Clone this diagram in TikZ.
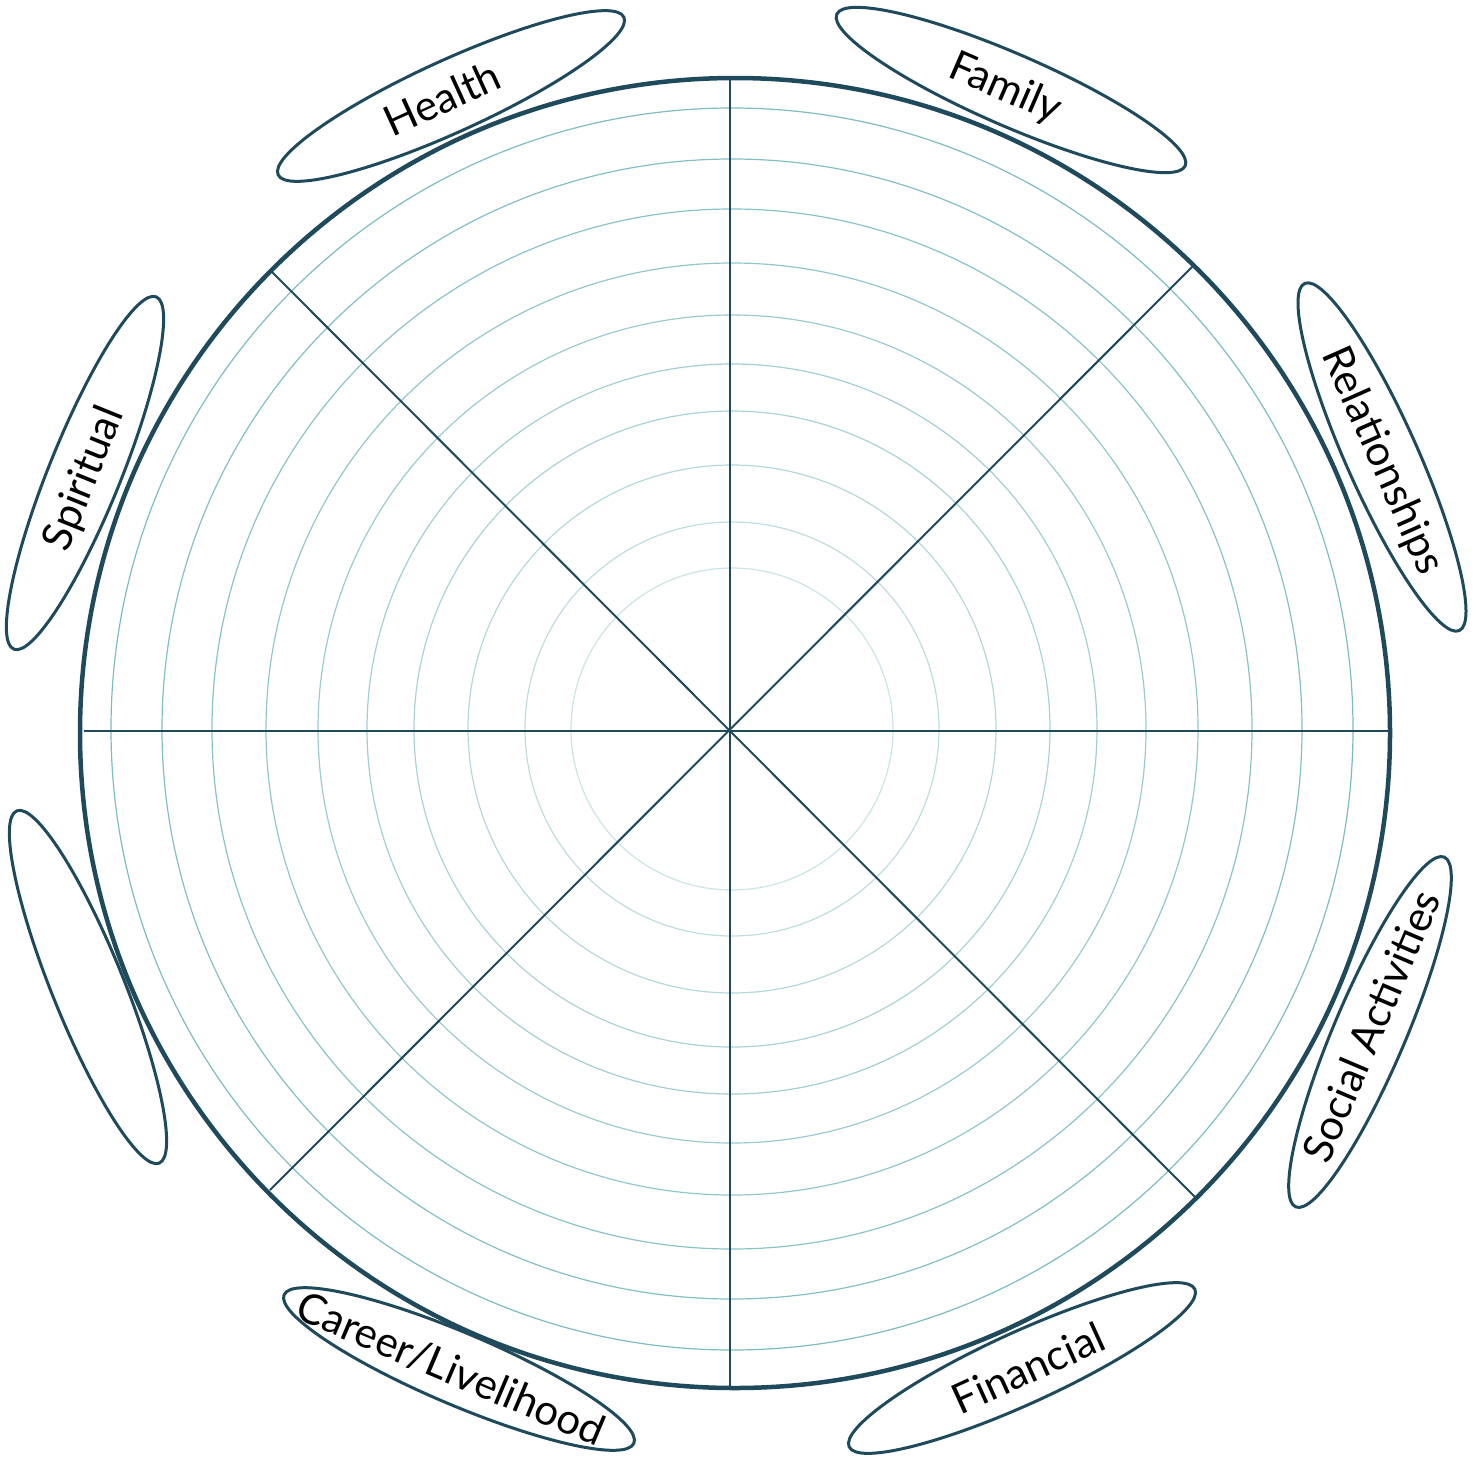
\documentclass[tikz,border=0pt]{standalone}
\usepackage{fontspec}
\setmainfont{Lato}
\usetikzlibrary{shapes.geometric}
\definecolor{darkteal}{RGB}{31,74,92}
\definecolor{ringteal}{RGB}{125,188,192}
\tikzset{
  wheelline/.style={draw=darkteal, line width=4.5pt},
  spoke/.style={draw=darkteal, line width=2pt},
  ring/.style={line width=1.2pt},
  oval/.style={ellipse, draw=darkteal, line width=3pt, minimum width=380pt, minimum height=72pt, inner sep=0pt},
  ovaltext/.style={font=\fontsize{42}{50}\selectfont, text=black, inner sep=0pt},
}
\begin{document}
\begin{tikzpicture}[x=1pt, y=-1pt]
\useasboundingbox (0,0) rectangle (1480,1456);
% concentric rings
\foreach \r/\c in {621/100, 570/95, 520/90, 466/84, 414/78, 365/72, 318/65, 264/58, 207/50, 161/40}{
  \draw[ring, draw=ringteal!\c] (732,729) circle[radius=\r];
}
% spokes
\coordinate (O) at (730,731);
\coordinate (N) at (730,79);
\coordinate (S) at (730,1387);
\coordinate (W) at (84,731);
\coordinate (E) at (1388,731);
\coordinate (NW) at (271,271);
\coordinate (SE) at (1195,1197);
\coordinate (NE) at (1193,266);
\coordinate (SW) at (270,1190);
\draw[spoke] (N) -- (S);
\draw[spoke] (W) -- (E);
\draw[spoke] (NW) -- (SE);
\draw[spoke] (NE) -- (SW);
% outer wheel
\node[circle, wheelline, minimum size=1310pt, inner sep=0pt] (wheel) at (735,733) {};
% ovals
\node[oval, rotate=24.5] (health) at (451,96) {};
\node[oval, rotate=-23.5] (family) at (1011,90) {};
\node[oval, rotate=-66] (relations) at (1382,457) {};
\node[oval, rotate=67] (social) at (1370,1032) {};
\node[oval, rotate=24.5] (financial) at (1022,1368) {};
\node[oval, rotate=-23] (career) at (459,1369) {};
\node[oval, rotate=-68] (blank) at (88,987) {};
\node[oval, rotate=68] (spiritual) at (85,473) {};
% labels
\node[ovaltext, rotate=24.5] (healthT) at ([xshift=-9pt, yshift=-2pt]health.center) {Health};
\node[ovaltext, rotate=-23.5] (familyT) at ([xshift=-6pt, yshift=1pt]family.center) {Family};
\node[ovaltext, rotate=-66] (relationsT) at ([yshift=-4pt]relations.center) {Relationships};
\node[ovaltext, rotate=67] (socialT) at ([xshift=1pt, yshift=6pt]social.center) {Social Activities};
\node[ovaltext, rotate=24.5] (financialT) at ([xshift=6pt]financial.center) {Financial};
\node[ovaltext, rotate=-23] (careerT) at ([xshift=-8pt]career.center) {Career/Livelihood};
\node[ovaltext, rotate=68] (spiritualT) at ([yshift=-6pt]spiritual.center) {Spiritual};
\end{tikzpicture}
\end{document}
